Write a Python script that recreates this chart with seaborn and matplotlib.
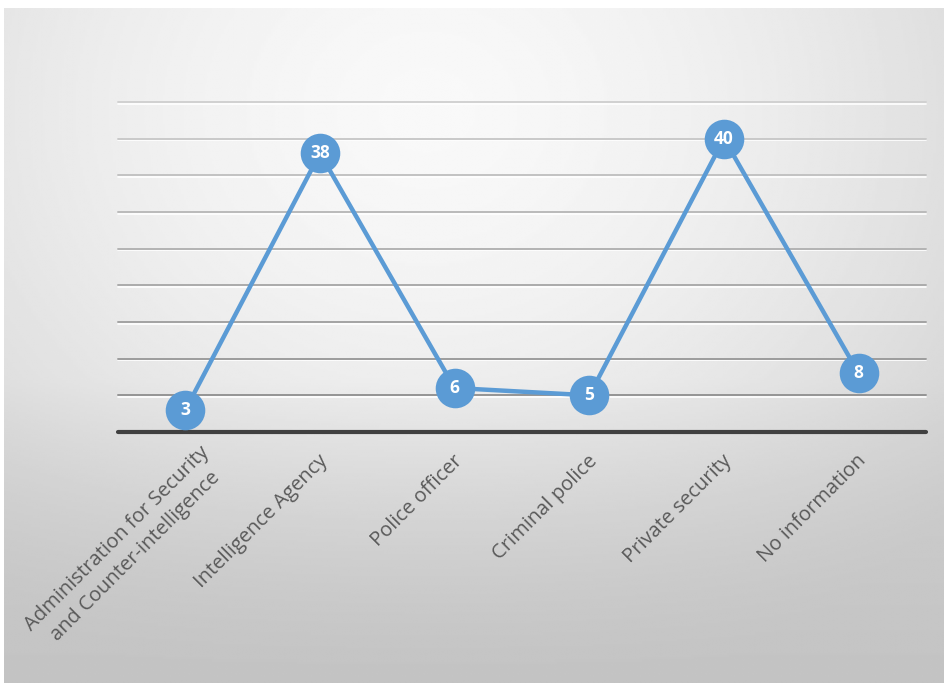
import numpy as np
import pandas as pd
import matplotlib
matplotlib.use("Agg")
import matplotlib.pyplot as plt
import matplotlib.transforms as mtransforms
import seaborn as sb

categories = ["Administration for Security\nand Counter-intelligence",
              "Intelligence Agency", "Police officer", "Criminal police",
              "Private security", "No information"]
values = [3, 38, 6, 5, 40, 8]
grid_levels = [5, 10, 15, 20, 25, 30, 35, 40, 45]

sb.set_style("white")
plt.rcParams["font.family"] = ["Open Sans", "DejaVu Sans"]

W, H = 944, 683
fig = plt.figure(figsize=(W / 100, H / 100), dpi=100)
fig.patch.set_facecolor("white")

# background panel: light radial glow at the top, grey towards the bottom
bg = fig.add_axes([4 / W, 0, 1 - 4 / W, 1 - 8 / H])
bg.set_axis_off()
yy, xx = np.mgrid[0:1:300j, 0:1:400j]
r = np.sqrt(((xx - 0.45) / 0.75) ** 2 + ((yy - 0.15) / 0.9) ** 2)
glow = 0.975 - 0.16 * np.clip(r, 0, 1) ** 1.6
vert = np.clip((yy - 0.55) / 0.45, 0, 1)
shade = glow * (1 - vert) + 0.765 * vert
shade = np.minimum(shade, glow)
bg.imshow(shade, cmap="gray", vmin=0, vmax=1, aspect="auto",
          extent=[0, 1, 1, 0], interpolation="bilinear")
bg.set_xlim(0, 1)
bg.set_ylim(1, 0)

ax = fig.add_axes([118 / W, 1 - 432 / H, (926 - 118) / W, (432 - 102) / H])
ax.patch.set_alpha(0)

df = pd.DataFrame({"category": categories, "value": values})

# grid lines: grey line with a thin white highlight underneath
ytrans = ax.get_yaxis_transform()
under = mtransforms.offset_copy(ytrans, fig=fig, x=0, y=-1.3, units="points")
for lv in grid_levels:
    t = lv / 45
    c = tuple([0.55 + 0.27 * t] * 3)
    ax.plot([0, 1], [lv, lv], color="white", lw=1.2, transform=under,
            zorder=1, clip_on=False)
    ax.plot([0, 1], [lv, lv], color=c, lw=1.4, transform=ytrans,
            zorder=1.5, clip_on=False)
ax.axhline(0, color="#404040", lw=3, zorder=2, clip_on=False)

sb.lineplot(data=df, x="category", y="value", sort=False, ax=ax,
            color="#5B9BD5", lw=3.2, marker="o", markersize=28.5,
            markeredgewidth=0, zorder=3, clip_on=False)

for i, v in enumerate(values):
    ax.text(i, v, str(v), ha="center", va="center", color="white",
            fontsize=12.5, fontweight="bold", zorder=4)

ax.set_xlim(-0.5, len(categories) - 0.5)
ax.set_ylim(0, 45)
ax.set_yticks([])
ax.set_xlabel("")
ax.set_ylabel("")
for s in ax.spines.values():
    s.set_visible(False)
ax.set_xticks(range(len(categories)))
ax.set_xticklabels([])
ax.tick_params(axis="x", length=0)

# category labels, rotated 45 degrees and hung under each tick
for i, lab in enumerate(categories):
    nlines = lab.count("\n") + 1
    dx = (5 + 25 * (nlines - 1)) / 100
    off = mtransforms.ScaledTranslation(dx, -26 / 100, fig.dpi_scale_trans)
    ax.text(i, 0, lab, transform=ax.transData + off, rotation=45,
            rotation_mode="anchor", ha="right", va="center",
            multialignment="center", linespacing=1.35,
            fontsize=14.5, color="#595959", clip_on=False)

fig.savefig("out.png", dpi=100)
